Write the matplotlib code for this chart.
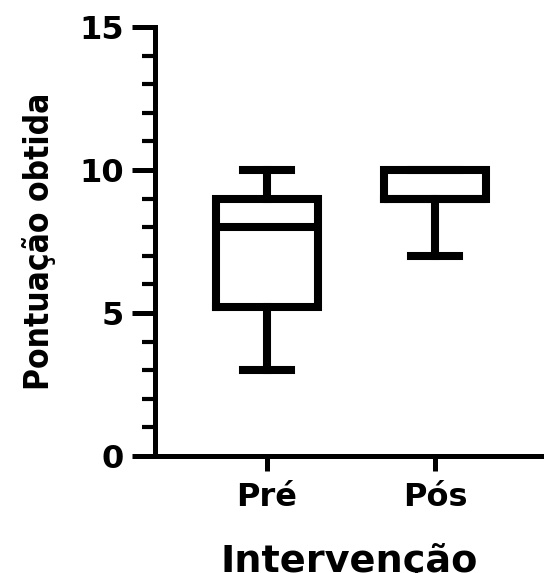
import matplotlib
matplotlib.use("Agg")
import matplotlib.pyplot as plt
from matplotlib.ticker import MultipleLocator

# box statistics
groups = ["Pré", "Pós"]
whislo = [3, 7]
q1 = [5.2, 9]
medians = [8, 9]
q3 = [9, 10]
whishi = [10, 10]

stats = [
    {"label": g, "whislo": lo, "q1": a, "med": m, "q3": b, "whishi": hi, "fliers": []}
    for g, lo, a, m, b, hi in zip(groups, whislo, q1, medians, q3, whishi)
]

fig = plt.figure(figsize=(5.44, 5.73), dpi=100)
ax = fig.add_axes([155 / 544, 1 - 456 / 573, 1 - 155 / 544, (456 - 27) / 573])

lw = 5.8
line = dict(color="black", linewidth=lw, solid_joinstyle="miter")
ax.bxp(stats, positions=[1, 2], widths=0.61, capwidths=0.28, showfliers=False,
       boxprops=line, whiskerprops=line, capprops=line, medianprops=line)

ax.set_ylim(0, 15)
ax.set_xlim(1 - 112 / 168, 2 + 109 / 168)
ax.yaxis.set_major_locator(MultipleLocator(5))
ax.yaxis.set_minor_locator(MultipleLocator(1))

for side in ("top", "right"):
    ax.spines[side].set_visible(False)
for side in ("left", "bottom"):
    ax.spines[side].set_linewidth(3.6)

ax.tick_params(axis="y", which="major", length=16.5, width=3.6, pad=6)
ax.tick_params(axis="y", which="minor", length=9.4, width=3.0)
ax.tick_params(axis="x", which="major", length=11, width=3.6, pad=8)

for lab in ax.get_yticklabels() + ax.get_xticklabels():
    lab.set_fontfamily("DejaVu Sans")
    lab.set_fontweight("bold")
    lab.set_fontsize(23)

ax.set_ylabel("Pontuação obtida", fontsize=24, fontweight="bold",
              fontstretch="condensed",
              family=["DejaVu Sans Condensed", "DejaVu Sans"])
ax.yaxis.set_label_coords(-0.255, 0.5)
ax.set_xlabel("Intervenção", fontsize=27.5, fontweight="bold", family="DejaVu Sans")
ax.xaxis.set_label_coords(0.5, -0.202)

fig.savefig("out.png", dpi=100)
